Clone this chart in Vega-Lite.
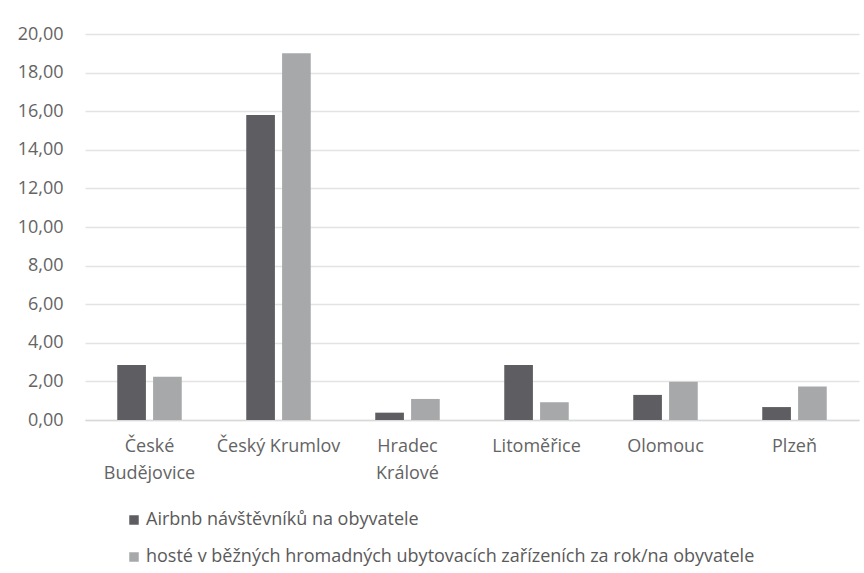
{
  "$schema": "https://vega.github.io/schema/vega-lite/v6.json",
  "width": 774,
  "height": 386,
  "autosize": {"type": "none"},
  "padding": {"left": 85, "top": 34, "right": 5, "bottom": 153},
  "background": "#ffffff",
  "config": {
    "view": {"stroke": null},
    "font": "Open Sans",
    "axis": {"labelFont": "Open Sans", "labelColor": "#646464", "labelFontSize": 18, "titleFont": "Open Sans"},
    "legend": {"labelFont": "Open Sans", "labelColor": "#5a5a5a", "labelFontSize": 18}
  },
  "data": {
    "values": [
      {"mesto": "České Budějovice", "rada": "Airbnb návštěvníků na obyvatele", "hodnota": 2.85},
      {"mesto": "České Budějovice", "rada": "hosté v běžných hromadných ubytovacích zařízeních za rok/na obyvatele", "hodnota": 2.24},
      {"mesto": "Český Krumlov", "rada": "Airbnb návštěvníků na obyvatele", "hodnota": 15.8},
      {"mesto": "Český Krumlov", "rada": "hosté v běžných hromadných ubytovacích zařízeních za rok/na obyvatele", "hodnota": 19.0},
      {"mesto": "Hradec Králové", "rada": "Airbnb návštěvníků na obyvatele", "hodnota": 0.38},
      {"mesto": "Hradec Králové", "rada": "hosté v běžných hromadných ubytovacích zařízeních za rok/na obyvatele", "hodnota": 1.09},
      {"mesto": "Litoměřice", "rada": "Airbnb návštěvníků na obyvatele", "hodnota": 2.85},
      {"mesto": "Litoměřice", "rada": "hosté v běžných hromadných ubytovacích zařízeních za rok/na obyvatele", "hodnota": 0.92},
      {"mesto": "Olomouc", "rada": "Airbnb návštěvníků na obyvatele", "hodnota": 1.3},
      {"mesto": "Olomouc", "rada": "hosté v běžných hromadných ubytovacích zařízeních za rok/na obyvatele", "hodnota": 1.98},
      {"mesto": "Plzeň", "rada": "Airbnb návštěvníků na obyvatele", "hodnota": 0.67},
      {"mesto": "Plzeň", "rada": "hosté v běžných hromadných ubytovacích zařízeních za rok/na obyvatele", "hodnota": 1.73}
    ]
  },
  "mark": {"type": "bar"},
  "encoding": {
    "x": {
      "field": "mesto",
      "type": "nominal",
      "sort": null,
      "scale": {"paddingInner": 0.5, "paddingOuter": 0.25},
      "axis": {
        "title": null,
        "labelAngle": 0,
        "ticks": false,
        "domain": true,
        "domainColor": "#d9d9d9",
        "domainWidth": 1.5,
        "labelPadding": 17,
        "labelBaseline": "top",
        "labelLineHeight": 27,
        "labelExpr": "datum.label == 'České Budějovice' ? ['České', 'Budějovice'] : datum.label == 'Hradec Králové' ? ['Hradec', 'Králové'] : datum.label"
      }
    },
    "xOffset": {"field": "rada", "type": "nominal", "scale": {"paddingInner": 0.2}},
    "y": {
      "field": "hodnota",
      "type": "quantitative",
      "scale": {"domain": [0, 20], "nice": false},
      "axis": {
        "title": null,
        "values": [0, 2, 4, 6, 8, 10, 12, 14, 16, 18, 20],
        "labelExpr": "replace(format(datum.value, '.2f'), '.', ',')",
        "domain": false,
        "ticks": false,
        "labelPadding": 22,
        "gridColor": "#e3e3e3",
        "gridWidth": 1.5
      }
    },
    "color": {
      "field": "rada",
      "type": "nominal",
      "scale": {"range": ["#5e5e62", "#a6a8aa"]},
      "legend": {
        "title": null,
        "orient": "none",
        "legendX": 40,
        "legendY": 477,
        "direction": "vertical",
        "symbolType": "square",
        "symbolSize": 90,
        "symbolStrokeWidth": 0,
        "rowPadding": 19,
        "labelOffset": 3,
        "labelLimit": 800
      }
    }
  }
}
